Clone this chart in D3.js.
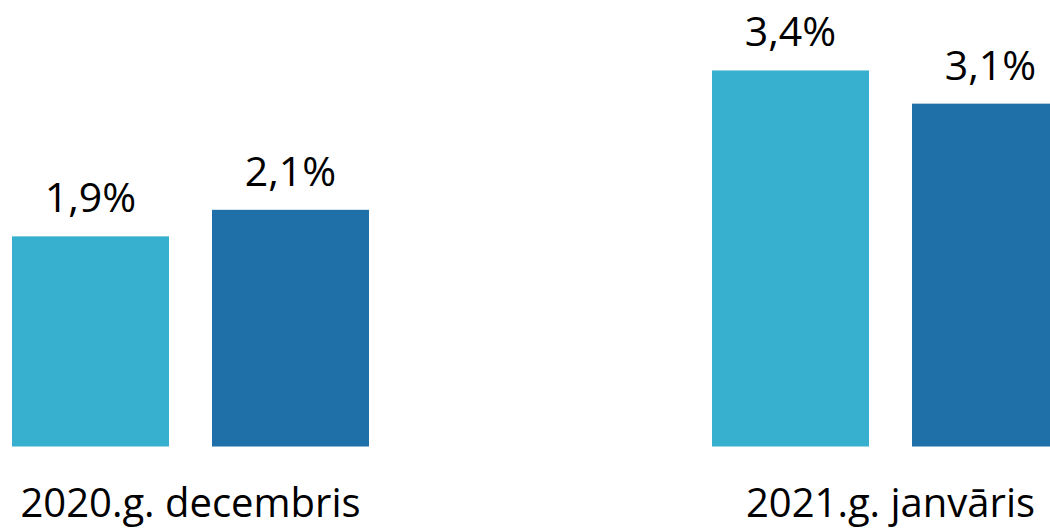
<!DOCTYPE html>
<html>
<head>
<meta charset="utf-8">
<script src="https://cdn.jsdelivr.net/npm/d3@7"></script>
<style>
  html, body { margin: 0; padding: 0; background: #ffffff; }
  svg { display: block; }
</style>
</head>
<body>
<div id="chart"></div>
<script>
// data (bar heights estimated, labels rounded to one decimal)
const categories = ["2020.g. decembris", "2021.g. janvāris"];
const seriesKeys = ["a", "b"];
const seriesA = [1.9, 3.4];
const seriesB = [2.14, 3.1];
const seriesColors = ["#37afce", "#1f70a9"];

const width = 1050, height = 529;
const fontFamily = "'Open Sans', 'Noto Sans', sans-serif";

const rows = categories.map((c, i) => ({cat: c, values: [seriesA[i], seriesB[i]]}));

const svg = d3.select("#chart").append("svg")
    .attr("width", width)
    .attr("height", height);

// outer band per month, inner band per series
const x0 = d3.scaleBand().domain(categories).range([12, 1069]).paddingInner(0.49).paddingOuter(0);
const x1 = d3.scaleBand().domain(seriesKeys).range([0, x0.bandwidth()]).paddingInner(0.215).paddingOuter(0);
const y = d3.scaleLinear().domain([0, 4]).range([446.5, 446.5 - 4 * 110.6]);

const groups = svg.selectAll("g.group")
    .data(rows)
    .join("g")
    .attr("class", "group")
    .attr("transform", d => `translate(${x0(d.cat)},0)`);

groups.selectAll("rect")
    .data(d => d.values.map((v, i) => ({key: seriesKeys[i], value: v, color: seriesColors[i]})))
    .join("rect")
    .attr("x", d => x1(d.key))
    .attr("y", d => y(d.value))
    .attr("width", x1.bandwidth())
    .attr("height", d => y(0) - y(d.value))
    .attr("fill", d => d.color);

// value labels
groups.selectAll("text.value")
    .data(d => d.values.map((v, i) => ({key: seriesKeys[i], value: v})))
    .join("text")
    .attr("class", "value")
    .attr("x", d => x1(d.key) + x1.bandwidth() / 2)
    .attr("y", d => y(d.value) - 24)
    .attr("text-anchor", "middle")
    .style("font-family", fontFamily)
    .style("font-size", "41px")
    .style("fill", "#000")
    .text(d => d3.format(".1f")(d.value).replace(".", ",") + "%");

// category axis, no line or ticks
const xAxis = d3.axisBottom(x0).tickSize(0).tickPadding(0);
const axisG = svg.append("g")
    .attr("transform", `translate(0,${y(0)})`)
    .call(xAxis);
axisG.select(".domain").remove();
axisG.selectAll("text")
    .attr("dy", null)
    .attr("y", 70)
    .style("font-family", fontFamily)
    .style("font-size", "40px")
    .style("fill", "#000");
</script>
</body>
</html>
